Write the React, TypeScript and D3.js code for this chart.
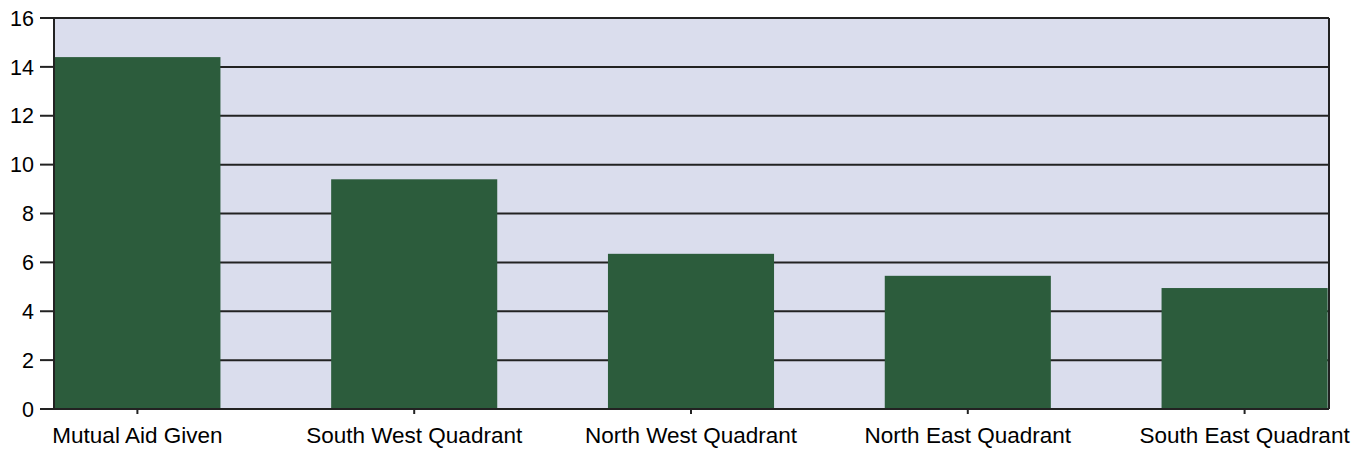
import React from "react";
import * as d3 from "d3";

const categories: string[] = [
  "Mutual Aid Given",
  "South West Quadrant",
  "North West Quadrant",
  "North East Quadrant",
  "South East Quadrant",
];
const values: number[] = [14.4, 9.4, 6.35, 5.45, 4.95];
const yTicks: number[] = [0, 2, 4, 6, 8, 10, 12, 14, 16];

const W = 1369;
const H = 458;
const plotLeft = 54;
const plotRight = 1329;
const plotTop = 18;
const plotBottom = 409;

export default function App() {
  const x = d3
    .scaleBand<string>()
    .domain(categories)
    .range([-1, 1383])
    .paddingInner(0.4)
    .paddingOuter(0.2);
  const y = d3.scaleLinear().domain([0, 16]).range([plotBottom, plotTop]);
  const font = "'Liberation Sans', Arial, sans-serif";

  return (
    <svg
      width={W}
      height={H}
      style={{ position: "absolute", left: 0, top: 0, background: "#fff" }}
    >
      <rect
        x={plotLeft}
        y={plotTop}
        width={plotRight - plotLeft}
        height={plotBottom - plotTop}
        fill="#dadded"
      />
      {yTicks.map((t) => (
        <g key={t}>
          <line
            x1={plotLeft}
            x2={plotRight}
            y1={y(t)}
            y2={y(t)}
            stroke="#222"
            strokeWidth={2}
          />
          <line
            x1={40}
            x2={plotLeft}
            y1={y(t)}
            y2={y(t)}
            stroke="#222"
            strokeWidth={2}
          />
          <text
            x={34}
            y={y(t)}
            dy="0.36em"
            textAnchor="end"
            fontFamily={font}
            fontSize={21.5}
            fill="#000"
          >
            {t}
          </text>
        </g>
      ))}
      {categories.map((c, i) => (
        <rect
          key={c}
          x={x(c)!}
          y={y(values[i])}
          width={x.bandwidth()}
          height={y(0) - y(values[i])}
          fill="#2c5c3c"
        />
      ))}
      <line
        x1={plotRight}
        x2={plotRight}
        y1={plotTop}
        y2={plotBottom}
        stroke="#222"
        strokeWidth={2}
      />
      <line
        x1={plotLeft}
        x2={plotLeft}
        y1={plotTop}
        y2={plotBottom}
        stroke="#222"
        strokeWidth={2}
      />
      <line
        x1={plotLeft}
        x2={plotRight}
        y1={plotBottom}
        y2={plotBottom}
        stroke="#222"
        strokeWidth={2}
      />
      {categories.map((c) => {
        const cx = x(c)! + x.bandwidth() / 2;
        return (
          <g key={c}>
            <line
              x1={cx}
              x2={cx}
              y1={plotBottom}
              y2={plotBottom + 5}
              stroke="#222"
              strokeWidth={2}
            />
            <text
              x={cx}
              y={442.5}
              textAnchor="middle"
              fontFamily={font}
              fontSize={22.5}
              fill="#000"
            >
              {c}
            </text>
          </g>
        );
      })}
    </svg>
  );
}
